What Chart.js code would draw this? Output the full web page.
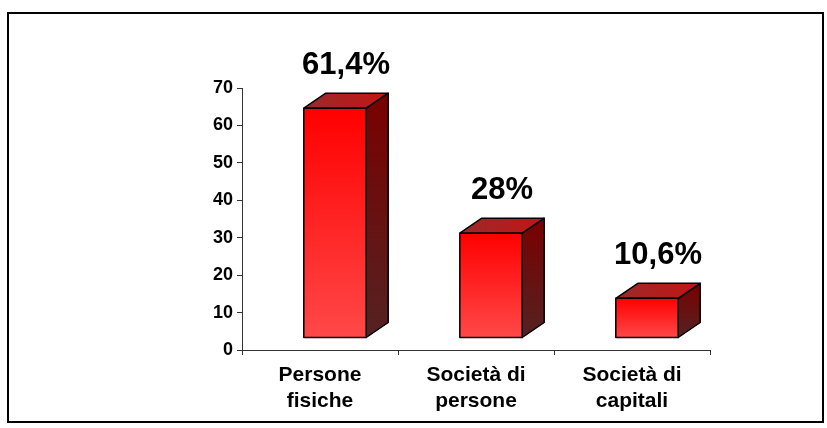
<!DOCTYPE html>
<html>
<head>
<meta charset="utf-8">
<script src="https://cdn.jsdelivr.net/npm/chart.js@4/dist/chart.umd.min.js"></script>
<style>
  html, body { margin: 0; padding: 0; background: #fff; }
  #wrap { width: 827px; height: 428px; }
</style>
</head>
<body>
<div id="wrap"><canvas id="chart" width="827" height="428"></canvas></div>
<script>
// dati
const categorie = [['Persone', 'fisiche'], ['Società di', 'persone'], ['Società di', 'capitali']];
const valori = [61.4, 28, 10.6];
const yMax = 70;
const yStep = 10;

const FONT = '"Liberation Sans", Arial, sans-serif';

// barre 3D disegnate sopra gli elementi della libreria
const bar3d = {
    id: 'bar3d',
    afterDatasetsDraw(chart) {
        const ctx = chart.ctx;
        const meta = chart.getDatasetMeta(0);
        const shiftX = 15, shiftY = 12;   // spostamento della faccia frontale
        const dx = 22, dy = 15;           // profondità
        ctx.save();
        ctx.lineWidth = 1.5;
        ctx.strokeStyle = '#000';
        ctx.lineJoin = 'round';
        meta.data.forEach((el, i) => {
            const p = el.getProps(['x', 'y', 'base', 'width'], true);
            const l = p.x - p.width / 2 + shiftX;
            const r = p.x + p.width / 2 + shiftX;
            const t = p.y - shiftY;
            const b = p.base - shiftY;

            // lato destro
            let g = ctx.createLinearGradient(0, t - dy, 0, b);
            g.addColorStop(0, '#7a0000');
            g.addColorStop(1, '#552222');
            ctx.fillStyle = g;
            ctx.beginPath();
            ctx.moveTo(r, t);
            ctx.lineTo(r + dx, t - dy);
            ctx.lineTo(r + dx, b - dy);
            ctx.lineTo(r, b);
            ctx.closePath();
            ctx.fill();
            ctx.stroke();

            // faccia superiore
            g = ctx.createLinearGradient(l, t, r + dx, t - dy);
            g.addColorStop(0, '#9a2a2a');
            g.addColorStop(1, '#c41414');
            ctx.fillStyle = g;
            ctx.beginPath();
            ctx.moveTo(l, t);
            ctx.lineTo(l + dx, t - dy);
            ctx.lineTo(r + dx, t - dy);
            ctx.lineTo(r, t);
            ctx.closePath();
            ctx.fill();
            ctx.stroke();

            // faccia frontale
            g = ctx.createLinearGradient(0, t, 0, b);
            g.addColorStop(0, '#ff0000');
            g.addColorStop(1, '#ff4848');
            ctx.fillStyle = g;
            ctx.fillRect(l, t, r - l, b - t);
            ctx.strokeRect(l, t, r - l, b - t);

            // etichetta valore
            ctx.fillStyle = '#000';
            ctx.font = 'bold 31px ' + FONT;
            ctx.textAlign = 'center';
            ctx.textBaseline = 'alphabetic';
            const txt = String(valori[i]).replace('.', ',') + '%';
            ctx.fillText(txt, (l + r + dx) / 2, t - dy - 19);
        });
        ctx.restore();
    },
    afterDraw(chart) {
        const ctx = chart.ctx;
        ctx.save();
        ctx.lineWidth = 2;
        ctx.strokeStyle = '#000';
        ctx.strokeRect(8, 13, 815, 409);
        ctx.restore();
    }
};

new Chart(document.getElementById('chart'), {
    type: 'bar',
    data: {
        labels: categorie,
        datasets: [{
            data: valori,
            backgroundColor: 'rgba(0,0,0,0)',
            borderWidth: 0,
            categoryPercentage: 0.8,
            barPercentage: 0.5
        }]
    },
    options: {
        responsive: false,
        animation: false,
        events: [],
        layout: {
            padding: { left: 192, right: 117, top: 88, bottom: 8 }
        },
        plugins: {
            legend: { display: false },
            tooltip: { enabled: false }
        },
        scales: {
            y: {
                min: 0,
                max: yMax,
                ticks: {
                    stepSize: yStep,
                    color: '#000',
                    padding: 4,
                    font: { family: FONT, size: 18, weight: 'bold' }
                },
                grid: { drawOnChartArea: false, tickLength: 5, color: '#333' },
                border: { color: '#333', width: 1 },
                afterFit: s => { s.width = 50; }
            },
            x: {
                ticks: {
                    color: '#000',
                    padding: 7,
                    maxRotation: 0,
                    font: { family: FONT, size: 21, weight: 'bold', lineHeight: 1.25 }
                },
                grid: { offset: true, drawOnChartArea: false, tickLength: 5, color: '#333' },
                border: { color: '#333', width: 1 },
                afterFit: s => { s.height = 70; }
            }
        }
    },
    plugins: [bar3d]
});
</script>
</body>
</html>
